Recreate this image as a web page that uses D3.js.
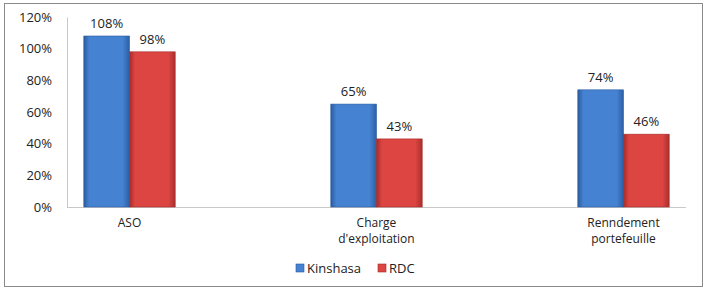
<!DOCTYPE html>
<html>
<head>
<meta charset="utf-8">
<script src="https://cdn.jsdelivr.net/npm/d3@7"></script>
<style>
  body { margin: 0; background: #fff; }
  text { font-family: "Open Sans", sans-serif; fill: #222; }
</style>
</head>
<body>
<div id="chart"></div>
<script>
const categories = [["ASO"], ["Charge", "d'exploitation"], ["Renndement", "portefeuille"]];
const seriesNames = ["Kinshasa", "RDC"];
const kinshasa = [1.08, 0.65, 0.74];
const rdc = [0.98, 0.43, 0.46];
const yTicks = [0, 0.2, 0.4, 0.6, 0.8, 1.0, 1.2];

const WIDTH = 707, HEIGHT = 291;
const colors = { Kinshasa: ["#2a5b9f", "#4582d2", "#2c5fa5"], RDC: ["#a52c2a", "#dc4542", "#a92f2c"] };

const svg = d3.select("#chart").append("svg")
    .attr("width", WIDTH).attr("height", HEIGHT);

// gradients for the bevelled bars
const defs = svg.append("defs");
seriesNames.forEach(s => {
    const g = defs.append("linearGradient").attr("id", "g-" + s)
        .attr("x1", "0%").attr("x2", "100%").attr("y1", "0%").attr("y2", "0%");
    g.append("stop").attr("offset", "0%").attr("stop-color", colors[s][0]);
    g.append("stop").attr("offset", "12%").attr("stop-color", colors[s][1]);
    g.append("stop").attr("offset", "85%").attr("stop-color", colors[s][1]);
    g.append("stop").attr("offset", "100%").attr("stop-color", colors[s][2]);
});

// outer frame
svg.append("rect").attr("x", 4.5).attr("y", 3.5).attr("width", 698).attr("height", 283)
    .attr("fill", "none").attr("stroke", "#8a8a8a");

const y = d3.scaleLinear().domain([0, 1.2]).range([207, 17]);
const keys = categories.map(c => c.join(" "));
const x0 = d3.scaleBand().domain(keys).range([6, 747]).paddingInner(0.63).paddingOuter(0.315);
const x1 = d3.scaleBand().domain(seriesNames).range([0, x0.bandwidth()]);

// y axis
const yAxis = svg.append("g").attr("transform", "translate(67,0)")
    .call(d3.axisLeft(y).tickValues(yTicks).tickFormat(d3.format(".0%")).tickSize(0).tickPadding(15));
yAxis.select(".domain").attr("stroke", "#c8c8c8");
yAxis.selectAll("text").attr("font-size", 13).attr("fill", "#222");

// x axis line
svg.append("line").attr("x1", 67).attr("x2", 686).attr("y1", 207.5).attr("y2", 207.5)
    .attr("stroke", "#c8c8c8");

const data = keys.map((k, i) => ({ key: k, lines: categories[i], values: [
    { s: "Kinshasa", v: kinshasa[i] }, { s: "RDC", v: rdc[i] }] }));

const groups = svg.selectAll(".grp").data(data).join("g")
    .attr("class", "grp")
    .attr("transform", d => `translate(${x0(d.key)},0)`);

groups.selectAll("rect").data(d => d.values).join("rect")
    .attr("x", d => x1(d.s))
    .attr("y", d => y(d.v))
    .attr("width", x1.bandwidth())
    .attr("height", d => y(0) - y(d.v))
    .attr("fill", d => `url(#g-${d.s})`)
    .attr("stroke", d => colors[d.s][0])
    .attr("stroke-width", 0.6);

groups.selectAll(".val").data(d => d.values).join("text")
    .attr("class", "val")
    .attr("x", d => x1(d.s) + x1.bandwidth() / 2)
    .attr("y", d => y(d.v) - 8)
    .attr("text-anchor", "middle")
    .attr("font-size", 13)
    .text(d => d3.format(".0%")(d.v));

// category labels, one text per line
groups.selectAll(".cat").data(d => d.lines).join("text")
    .attr("class", "cat")
    .attr("x", x0.bandwidth() / 2)
    .attr("y", (d, i) => 227 + i * 16)
    .attr("text-anchor", "middle")
    .attr("font-size", 12)
    .text(d => d);

// legend
const legendX = [296, 378];
const legend = svg.selectAll(".leg").data(seriesNames).join("g")
    .attr("class", "leg")
    .attr("transform", (d, i) => `translate(${legendX[i]},264)`);
legend.append("rect").attr("width", 8).attr("height", 8)
    .attr("fill", d => colors[d][1]).attr("stroke", d => colors[d][0]).attr("stroke-width", 0.6);
legend.append("text").attr("x", 11).attr("y", 8.5).attr("font-size", 13).text(d => d);
</script>
</body>
</html>
